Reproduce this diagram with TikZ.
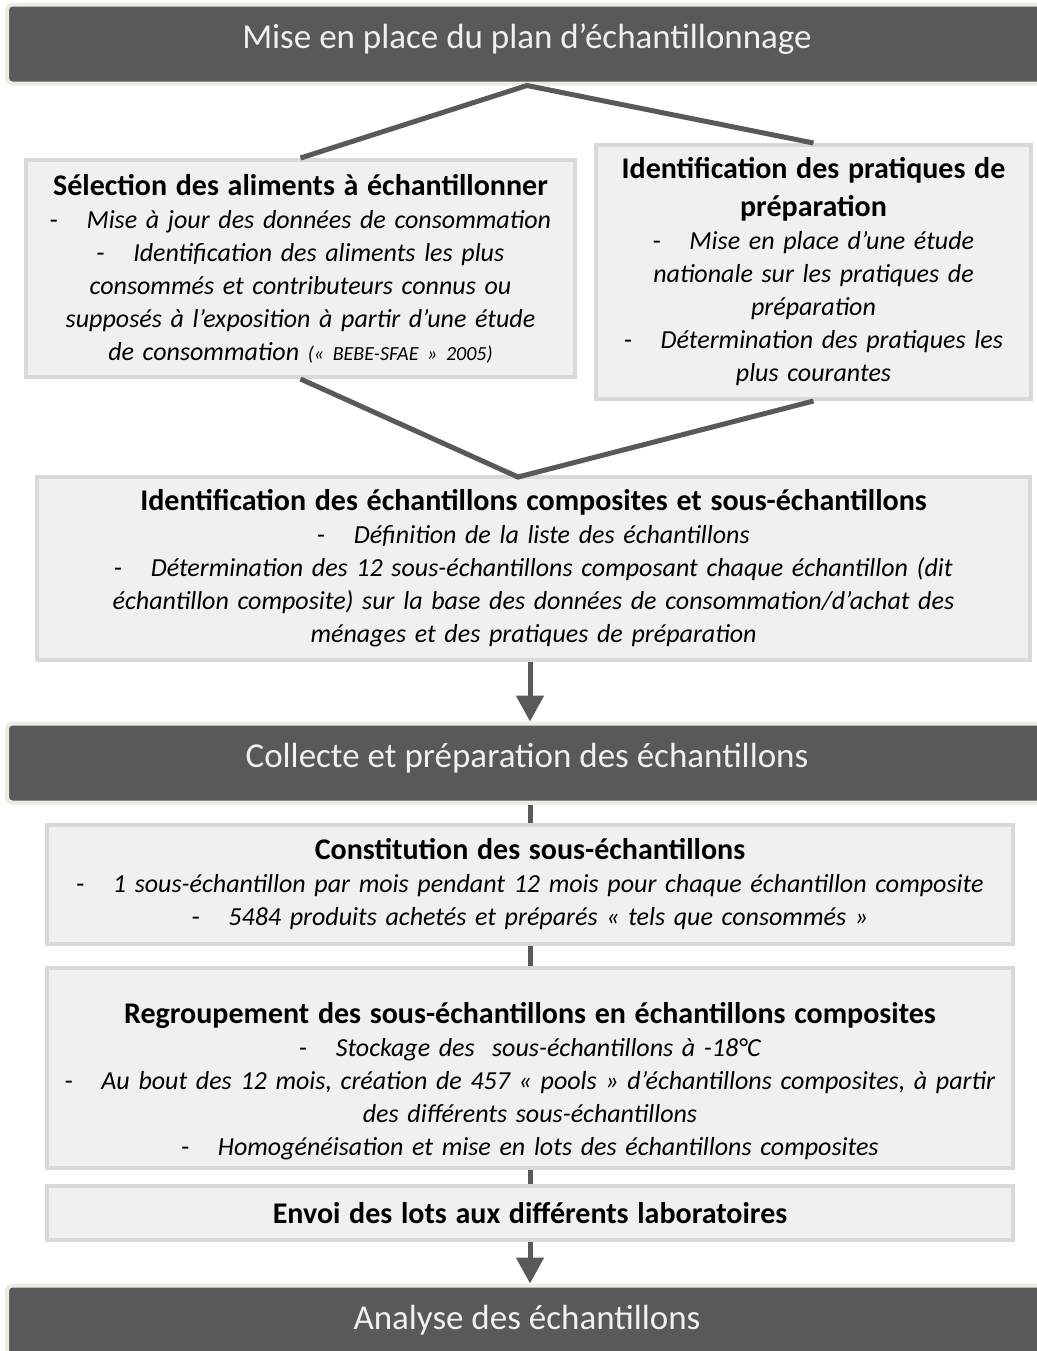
\documentclass[tikz,border=0pt]{standalone}
\usepackage{fontspec}
\setmainfont{Carlito}
\usepackage{tikz}
\usetikzlibrary{arrows.meta}

\definecolor{phasefill}{RGB}{89,89,89}
\definecolor{phaseline}{RGB}{238,236,225}
\definecolor{etapefill}{RGB}{240,240,240}
\definecolor{etapeline}{RGB}{217,217,217}
\definecolor{liengris}{RGB}{89,89,89}
\newcommand{\tiret}{{\upshape -}\hspace{1.1em}}
\newcommand{\titre}{\upshape\bfseries\fontsize{15}{19}\selectfont}

\begin{document}
\begin{tikzpicture}[x=0.5pt, y=-0.5pt]
            \tikzstyle{phase}=[draw=phaseline, line width=2pt, fill=phasefill, rounded corners=2.5pt,
                text=etapefill, font=\fontsize{17.5}{21}\selectfont, text depth=8pt,
                minimum width=520pt, minimum height=39.5pt];
            \tikzstyle{etape}=[draw=etapeline, line width=2pt, fill=etapefill, inner sep=0pt,
                align=center, font=\fontsize{13}{16.5}\selectfont\itshape];
            \tikzstyle{lien}=[draw=liengris, line width=2.5pt];
            \tikzstyle{fleche}=[-{Triangle[width=13.5pt,length=13pt]}];
            \useasboundingbox (0,0) rectangle (1037,1351);
            % phases
            \node[phase] (plan) at (527,44) {Mise en place du plan d’échantillonnage};
            \node[phase] (collecte) at (527,763) {Collecte et préparation des échantillons};
            \node[phase] (analyse) at (527,1325) {Analyse des échantillons};
            % etapes
            \node[etape, minimum width=274.5pt, minimum height=108.5pt, text width=268pt] (selection) at (300.5,268.5)
                {{\titre Sélection des aliments à échantillonner}\\
                \tiret Mise à jour des données de consommation\\
                \tiret Identification des aliments les plus\\
                consommés et contributeurs connus ou\\
                supposés à l’exposition à partir d’une étude\\
                de consommation {\fontsize{10}{12}\selectfont(« BEBE-SFAE » 2005)}};
            \node[etape, minimum width=217.5pt, minimum height=127pt, text width=212pt] (pratiques) at (813.5,272)
                {{\titre Identification des pratiques de\\[2.5pt] préparation}\\
                \tiret Mise en place d’une étude\\
                nationale sur les pratiques de\\
                préparation\\
                \tiret Détermination des pratiques les\\
                plus courantes};
            \node[etape, minimum width=496.5pt, minimum height=91.5pt, text width=490pt] (composites) at (533.5,568.5)
                {{\titre Identification des échantillons composites et sous-échantillons}\\
                \tiret Définition de la liste des échantillons\\
                \tiret Détermination des 12 sous-échantillons composant chaque échantillon (dit\\
                échantillon composite) sur la base des données de consommation/d’achat des\\
                ménages et des pratiques de préparation};
            \node[etape, minimum width=483pt, minimum height=59.5pt, text width=478pt] (constitution) at (530,884.5)
                {{\titre Constitution des sous-échantillons}\\
                \tiret 1 sous-échantillon par mois pendant 12 mois pour chaque échantillon composite\\
                \tiret 5484 produits achetés et préparés « tels que consommés »};
            \node[etape, minimum width=483pt, minimum height=100pt, text width=478pt] (regroupement) at (530,1068)
                {{\titre\rule{0pt}{24pt}Regroupement des sous-échantillons en échantillons composites}\\
                \tiret Stockage des\ \ sous-échantillons à -18°C\\
                \tiret Au bout des 12 mois, création de 457 « pools » d’échantillons composites, à partir\\
                des différents sous-échantillons\\
                \tiret Homogénéisation et mise en lots des échantillons composites};
            \node[etape, minimum width=483pt, minimum height=27pt, text width=478pt] (envoi) at (530,1213)
                {\titre Envoi des lots aux différents laboratoires};
            % liens
            \coordinate (jonction) at (518,477);
            \draw[lien] (selection.north) -- (plan.south) -- (pratiques.north);
            \draw[lien] (selection.south) -- (jonction) -- (pratiques.south);
            \draw[lien, fleche] (composites.south -| envoi) -- (collecte.north -| envoi);
            \draw[lien] (collecte.south -| envoi) -- (constitution.north);
            \draw[lien] (constitution.south) -- (regroupement.north);
            \draw[lien] (regroupement.south) -- (envoi.north);
            \draw[lien, fleche] (envoi.south) -- (analyse.north -| envoi);
\end{tikzpicture}
\end{document}
